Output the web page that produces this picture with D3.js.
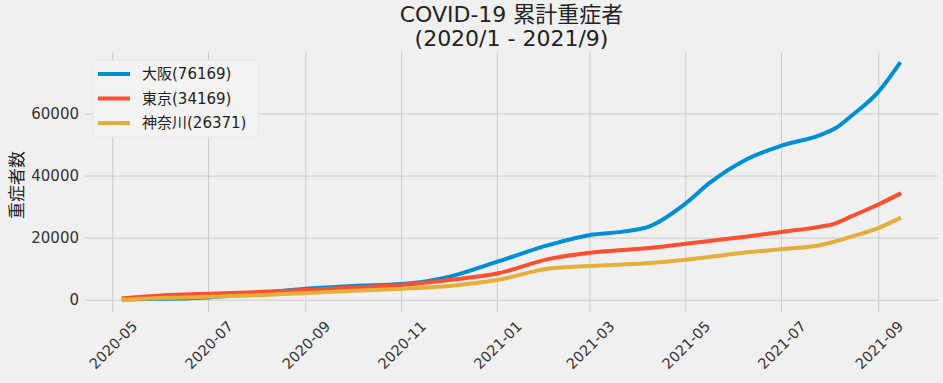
<!DOCTYPE html>
<html lang="ja">
<head>
<meta charset="utf-8">
<script src="https://d3js.org/d3.v7.min.js"></script>
<style type="text/css">
body {
	margin: 0;
	background-color: #f0f0f0;
	font-family: "DejaVu Sans", "Noto Sans CJK JP", sans-serif;
}
.tick text {
	fill: #333;
	font-size: 14px;
	font-family: "DejaVu Sans", "Noto Sans CJK JP", sans-serif;
}
</style>
</head>
<body>
<script type="text/javascript">

// data (cumulative severe cases)
var dates = ["2020-05-08", "2020-06-01", "2020-07-01", "2020-08-01", "2020-09-01", "2020-10-01",
  "2020-11-01", "2020-12-01", "2021-01-01", "2021-02-03", "2021-03-01", "2021-03-22",
  "2021-04-08", "2021-05-01", "2021-05-16", "2021-06-08", "2021-07-01", "2021-07-26",
  "2021-08-04", "2021-08-14", "2021-09-01", "2021-09-14"];
var osaka = [200, 450, 900, 2200, 3700, 4600, 5200, 7500, 12400, 17800, 21000, 22100,
  23800, 31200, 37700, 45200, 49800, 53300, 55300, 59200, 67300, 76169];
var tokyo = [600, 1500, 2100, 2600, 3300, 4100, 4900, 6500, 8600, 13300, 15300, 16150,
  16800, 18200, 19100, 20450, 22000, 23700, 24700, 26900, 30900, 34169];
var kanagawa = [200, 700, 1100, 1600, 2300, 3000, 3700, 4600, 6500, 10200, 11000, 11500,
  12000, 13000, 13900, 15400, 16400, 17800, 18900, 20400, 23300, 26371];

var seriesNames = ["大阪(76169)", "東京(34169)", "神奈川(26371)"];
var seriesColors = ["#008fd5", "#fc4f30", "#e5ae38"];
var yTicks = [0, 20000, 40000, 60000];

var width = 943, height = 383;
var plotLeft = 85, plotRight = 938, plotTop = 52, plotBottom = 312;

var parse = d3.timeParse("%Y-%m-%d");
var xDates = dates.map(parse);

var svg = d3.select("body").append("svg")
  .attr("width", width)
  .attr("height", height);

svg.append("rect")
  .attr("width", width)
  .attr("height", height)
  .attr("fill", "#f0f0f0");

// 5% margins like matplotlib
var xExt = d3.extent(xDates);
var span = xExt[1] - xExt[0];
var x = d3.scaleTime()
  .domain([new Date(+xExt[0] - span * 0.05), new Date(+xExt[1] + span * 0.05)])
  .range([plotLeft, plotRight]);

var yMax = 76169;
var y = d3.scaleLinear()
  .domain([-yMax * 0.05, yMax * 1.05])
  .range([plotBottom, plotTop]);

var xTicks = d3.timeMonth.every(2).range(parse("2020-05-01"), parse("2021-10-01"));

// grid
svg.append("g").selectAll("line")
  .data(yTicks).enter().append("line")
  .attr("x1", plotLeft).attr("x2", plotRight)
  .attr("y1", function(d) { return y(d); })
  .attr("y2", function(d) { return y(d); })
  .attr("stroke", "#cbcbcb").attr("stroke-width", 1);

svg.append("g").selectAll("line")
  .data(xTicks).enter().append("line")
  .attr("y1", plotTop).attr("y2", plotBottom)
  .attr("x1", function(d) { return x(d); })
  .attr("x2", function(d) { return x(d); })
  .attr("stroke", "#cbcbcb").attr("stroke-width", 1);

// y axis labels
var yAxis = svg.append("g")
  .attr("transform", "translate(" + plotLeft + ",0)")
  .call(d3.axisLeft(y).tickValues(yTicks).tickSize(0).tickPadding(6).tickFormat(d3.format("d")));
yAxis.select(".domain").remove();
yAxis.selectAll("text").style("font-size", "15px");

// x axis labels, rotated 45
var xAxis = svg.append("g")
  .attr("transform", "translate(0," + plotBottom + ")")
  .call(d3.axisBottom(x).tickValues(xTicks).tickSize(0).tickFormat(d3.timeFormat("%Y-%m")));
xAxis.select(".domain").remove();
xAxis.selectAll("text")
  .attr("y", 0).attr("dy", 0)
  .style("text-anchor", "middle")
  .style("dominant-baseline", "central")
  .style("font-size", "14.5px")
  .attr("transform", "translate(0,33) rotate(-45)");

// y label
svg.append("text")
  .attr("transform", "translate(17," + ((plotTop + plotBottom) / 2 + 3) + ") rotate(-90)")
  .attr("text-anchor", "middle")
  .style("dominant-baseline", "central")
  .style("font-size", "17px")
  .attr("fill", "#222")
  .text("重症者数");

// title
svg.append("text")
  .attr("x", (plotLeft + plotRight) / 2).attr("y", 22)
  .attr("text-anchor", "middle")
  .style("font-size", "22px")
  .attr("fill", "#222")
  .text("COVID-19 累計重症者");
svg.append("text")
  .attr("x", (plotLeft + plotRight) / 2).attr("y", 46)
  .attr("text-anchor", "middle")
  .style("font-size", "22px")
  .attr("fill", "#222")
  .text("(2020/1 - 2021/9)");

// lines
var allSeries = [osaka, tokyo, kanagawa];
var line = d3.line()
  .x(function(d, i) { return x(xDates[i]); })
  .y(function(d) { return y(d); })
  .curve(d3.curveMonotoneX);

svg.append("g").selectAll("path")
  .data(allSeries).enter().append("path")
  .attr("d", line)
  .attr("fill", "none")
  .attr("stroke", function(d, i) { return seriesColors[i]; })
  .attr("stroke-width", 4)
  .attr("stroke-linecap", "square");

// legend
var legend = svg.append("g").attr("transform", "translate(93,60)");
legend.append("rect")
  .attr("width", 165).attr("height", 77)
  .attr("rx", 3)
  .attr("fill", "#f3f3f3")
  .attr("stroke", "#e6e6e6");

seriesNames.forEach(function(name, i) {
  var ly = 14 + i * 24.5;
  legend.append("line")
    .attr("x1", 5).attr("x2", 37)
    .attr("y1", ly).attr("y2", ly)
    .attr("stroke", seriesColors[i])
    .attr("stroke-width", 4);
  legend.append("text")
    .attr("x", 49).attr("y", ly)
    .style("dominant-baseline", "central")
    .style("font-size", "15px")
    .attr("fill", "#222")
    .text(name);
});

</script>
</body>
</html>
